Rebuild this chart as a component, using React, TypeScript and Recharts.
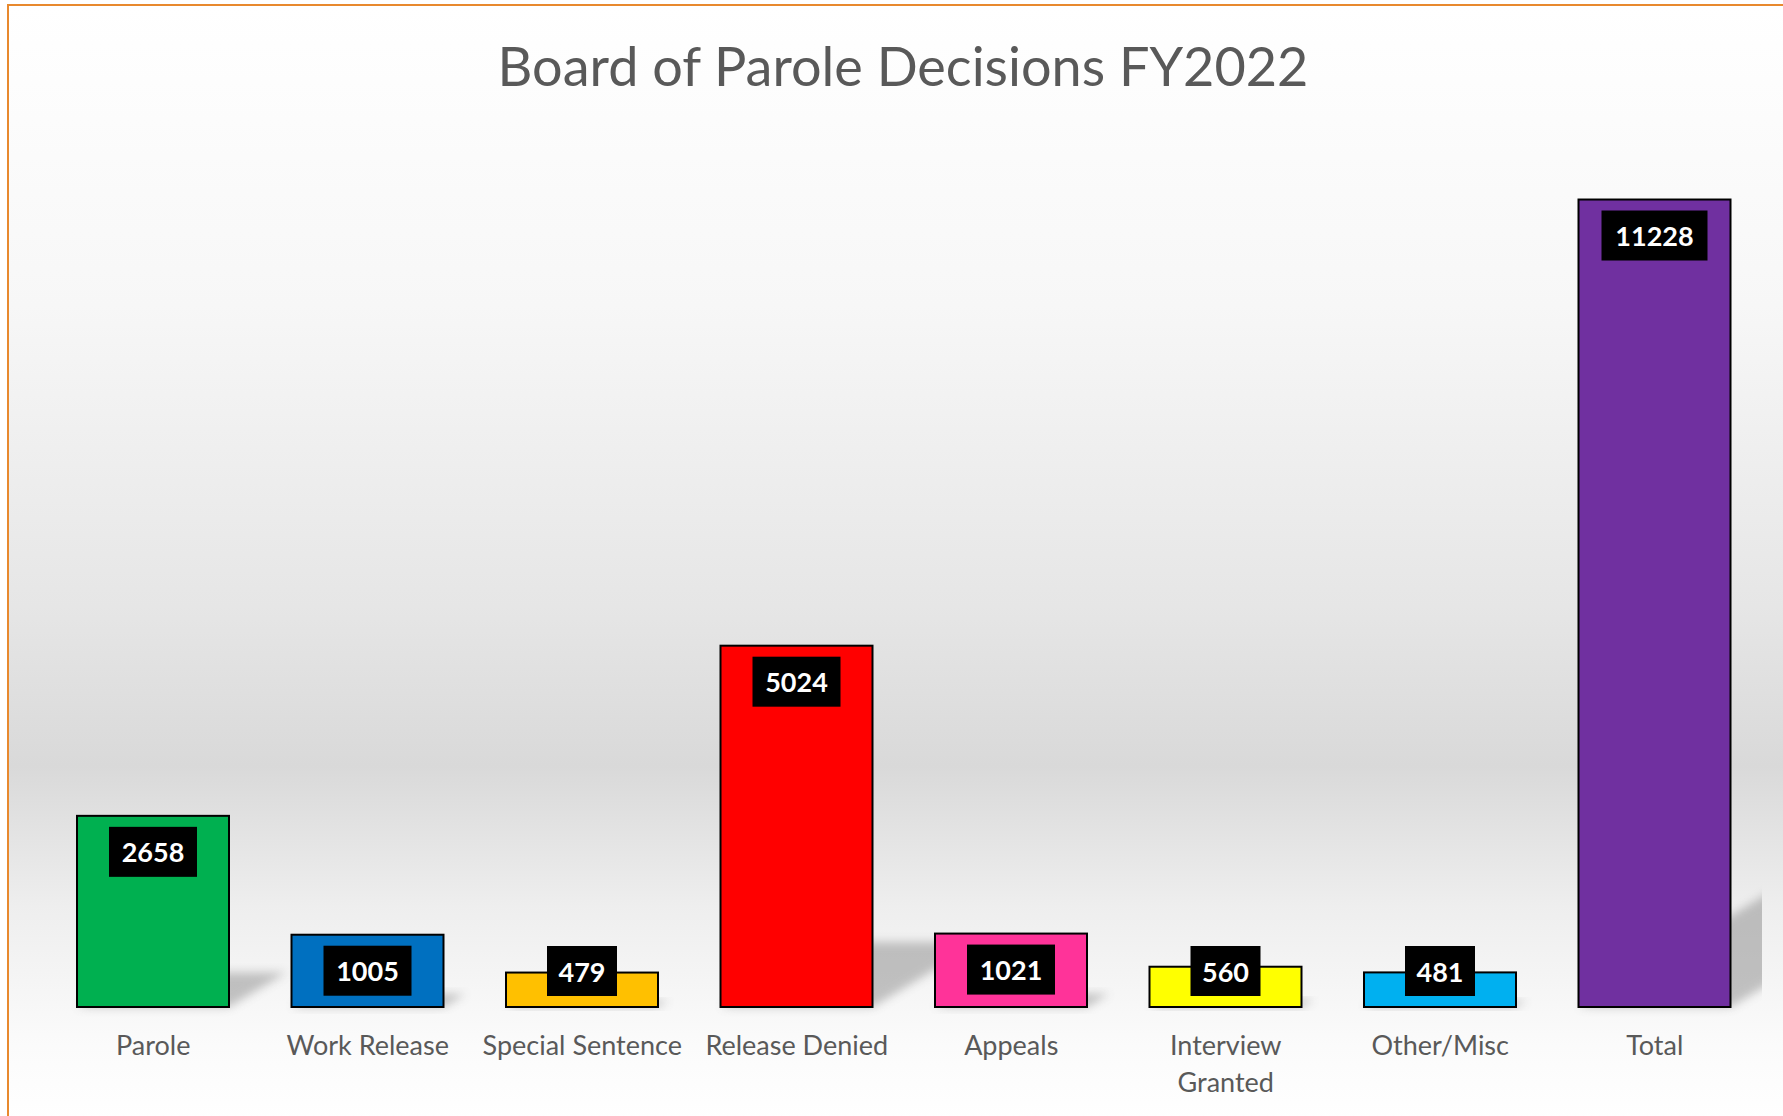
import React from 'react';
import { BarChart, Bar, XAxis, YAxis, Cell, LabelList } from 'recharts';

const categories = [
  'Parole',
  'Work Release',
  'Special Sentence',
  'Release Denied',
  'Appeals',
  'Interview Granted',
  'Other/Misc',
  'Total',
];
const decisions = [2658, 1005, 479, 5024, 1021, 560, 481, 11228];
const barColors = ['#00B050', '#0070C0', '#FFC000', '#FF0000', '#FF3399', '#FFFF00', '#00B0F0', '#7030A0'];
const title = 'Board of Parole Decisions FY2022';

const chartData = categories.map((name, i) => ({ name, value: decisions[i] }));

const FONT = 'Lato, "Liberation Sans", sans-serif';
const CHART_W = 1783;
const CHART_H = 1116;
const MARGIN = { top: 144, right: 21, left: 46, bottom: 49 };
const PLOT_RIGHT = CHART_W - MARGIN.right;

function ShadowBar(props: any) {
  const { x, y, width, height, fill, index } = props;
  if (height == null || height <= 0) return null;
  const base = y + height;
  const dx = height * 0.3;
  const dy = height * 0.18;
  const pts = [
    [x, base],
    [x + width, base],
    [x + width + dx, base - dy],
    [x + dx, base - dy],
  ]
    .map((p) => p.join(','))
    .join(' ');
  const fid = `shadow-${index}`;
  const cid = `shadow-clip-${index}`;
  return (
    <g>
      <defs>
        <filter id={fid} x="-50%" y="-50%" width="200%" height="200%">
          <feGaussianBlur stdDeviation="5" />
        </filter>
        <clipPath id={cid}>
          <rect x={0} y={0} width={PLOT_RIGHT} height={CHART_H} />
        </clipPath>
      </defs>
      <g clipPath={`url(#${cid})`}>
        <polygon points={pts} fill="#7f7f7f" opacity={0.45} filter={`url(#${fid})`} />
      </g>
      <rect x={x} y={y} width={width} height={height} fill={fill} stroke="#000" strokeWidth={2} />
    </g>
  );
}

function ValueBox(props: any) {
  const { x, y, width, height, value } = props;
  const txt = String(value);
  const bw = 18 * txt.length + 16;
  const bh = 50;
  const top = Math.min(y + 11, y + height - 11 - bh);
  const cx = x + width / 2;
  return (
    <g>
      <rect x={cx - bw / 2} y={top} width={bw} height={bh} fill="#000" />
      <text
        x={cx}
        y={top + bh / 2}
        textAnchor="middle"
        dominantBaseline="central"
        fill="#fff"
        fontFamily={FONT}
        fontWeight={700}
        fontSize={27}
      >
        {txt}
      </text>
    </g>
  );
}

function CategoryTick(props: any) {
  const { x, y, payload } = props;
  const label: string = payload.value;
  const lines = label.length > 16 ? label.split(' ') : [label];
  return (
    <text
      x={x}
      y={y}
      textAnchor="middle"
      fill="#595959"
      fontFamily={FONT}
      fontSize={27}
    >
      {lines.map((l, i) => (
        <tspan key={i} x={x} dy={i === 0 ? 40 : 37}>
          {l}
        </tspan>
      ))}
    </text>
  );
}

export default function App() {
  return (
    <div
      style={{
        position: 'absolute',
        left: 0,
        top: 0,
        width: CHART_W,
        height: CHART_H,
        overflow: 'hidden',
        background: '#fff',
      }}
    >
      <div
        style={{
          position: 'absolute',
          left: 7,
          top: 4,
          width: 1850,
          height: 1200,
          border: '2px solid #E8892E',
          background:
            'linear-gradient(to bottom, #ffffff 0px, #f7f7f7 300px, #e6e6e6 600px, #d9d9d9 760px, #eeeeee 900px, #fbfbfb 1040px, #ffffff 1116px)',
        }}
      />
      <div
        style={{
          position: 'absolute',
          left: 0,
          width: 1806,
          top: 34,
          textAlign: 'center',
          fontFamily: FONT,
          fontSize: 54,
          color: '#595959',
          lineHeight: '64px',
        }}
      >
        {title}
      </div>
      <div style={{ position: 'absolute', left: 0, top: 0 }}>
        <BarChart width={CHART_W} height={CHART_H} data={chartData} margin={MARGIN}>
          <XAxis
            dataKey="name"
            axisLine={false}
            tickLine={false}
            interval={0}
            height={60}
            tick={<CategoryTick />}
          />
          <YAxis hide domain={[0, 12000]} />
          <Bar dataKey="value" barSize={152} shape={<ShadowBar />} isAnimationActive={false}>
            {chartData.map((d, i) => (
              <Cell key={d.name} fill={barColors[i]} />
            ))}
            <LabelList dataKey="value" content={<ValueBox />} />
          </Bar>
        </BarChart>
      </div>
    </div>
  );
}
